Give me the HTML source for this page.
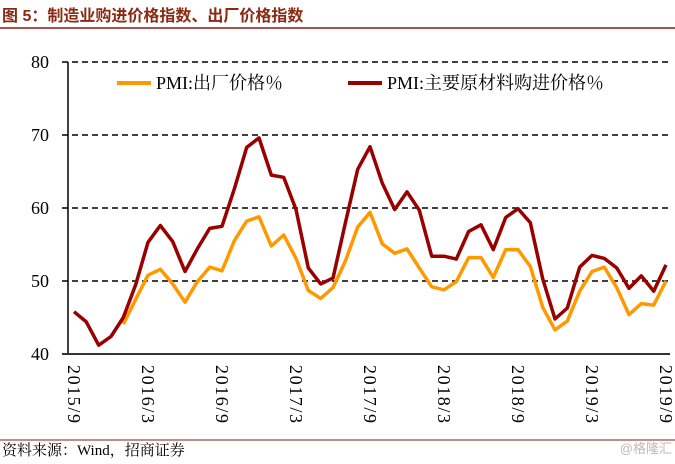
<!DOCTYPE html>
<html><head><meta charset="utf-8"><style>
body{margin:0;width:675px;height:459px;background:#fff;overflow:hidden}
svg text{font-family:"Liberation Serif","Noto Serif CJK SC",serif}
</style></head><body>
<svg width="675" height="459" xmlns="http://www.w3.org/2000/svg">
<text x="2" y="21" font-size="16" font-weight="bold" fill="#8b2a12" style="font-family:'Liberation Sans','Noto Sans CJK SC',sans-serif">图 5：制造业购进价格指数、出厂价格指数</text>
<line x1="0" y1="28" x2="675" y2="28" stroke="#8b1a1a" stroke-width="1.5"/>
<g id="grid"></g><g id="axes"></g><g id="series"></g>
<g>
<line x1="117" y1="83" x2="151" y2="83" stroke="#ff9900" stroke-width="4"/>
<text x="156" y="89" font-size="18">PMI:出厂价格％</text>
<line x1="348" y1="83" x2="382" y2="83" stroke="#990000" stroke-width="4"/>
<text x="387" y="89" font-size="18">PMI:主要原材料购进价格％</text>
</g>
<line x1="0" y1="440" x2="675" y2="440" stroke="#8b1a1a" stroke-width="1"/>
<text x="2" y="455" font-size="15">资料来源：Wind，招商证券</text>
<text x="672" y="453" font-size="13" fill="#bbb" text-anchor="end" style="font-family:'Liberation Sans','Noto Sans CJK SC',sans-serif">@格隆汇</text>
</svg>
<script>
const yTicks=[40,50,60,70,80];
const xLabels=["2015/9","2016/3","2016/9","2017/3","2017/9","2018/3","2018/9","2019/3","2019/9"];
const inputPrice=[45.8,44.4,41.2,42.4,45.0,49.5,55.3,57.6,55.4,51.3,54.4,57.2,57.5,62.6,68.3,69.6,64.5,64.2,59.8,51.8,49.6,50.4,57.9,65.3,68.4,63.4,59.8,62.2,59.7,53.4,53.4,53.0,56.8,57.7,54.3,58.7,59.9,58.0,50.3,44.8,46.3,51.9,53.5,53.1,51.8,49.0,50.7,48.6,52.2];
const outputPrice=[null,null,null,null,44.1,47.5,50.8,51.6,49.6,47.1,49.9,51.9,51.4,55.5,58.2,58.8,54.8,56.3,53.1,48.7,47.6,49.1,52.7,57.4,59.4,55.1,53.8,54.4,51.8,49.2,48.8,49.9,53.2,53.2,50.5,54.3,54.3,52.0,46.4,43.3,44.5,48.6,51.3,51.9,49.1,45.4,46.9,46.7,50.0];
const NS="http://www.w3.org/2000/svg";
const x0=74,x1=666,yTop=62,yBot=354,vMin=40,vMax=80,n=inputPrice.length;
const X=i=>x0+(x1-x0)*i/(n-1);
const Y=v=>yBot-(v-vMin)/(vMax-vMin)*(yBot-yTop);
function mk(t,a,p){const e=document.createElementNS(NS,t);for(const k in a)e.setAttribute(k,a[k]);p.appendChild(e);return e;}
const grid=document.getElementById('grid'),axes=document.getElementById('axes'),ser=document.getElementById('series');
yTicks.forEach(v=>{
  if(v>vMin){const g=mk('line',{x1:62,x2:668,y1:Y(v),y2:Y(v),stroke:'#000','stroke-width':1.5,'stroke-dasharray':'6,4'},grid);
  
  }
  const t=mk('text',{x:49,y:Y(v)+6,'font-size':18,'text-anchor':'end'},axes);t.textContent=v;
  
  
});
const ya=mk('line',{x1:68,x2:68,y1:yTop,y2:yBot,stroke:'#000','stroke-width':1.5},axes);


const xa=mk('line',{x1:62,x2:670,y1:yBot,y2:yBot,stroke:'#333','stroke-width':2},axes);


xLabels.forEach((l,k)=>{const xx=X(k*6);
  const t=mk('text',{x:0,y:0,'font-size':18,'letter-spacing':'1.6',transform:`translate(${xx-6},365) rotate(90)`},axes);t.textContent=l;
  
  
});
function line(arr,color,name){let d='';arr.forEach((v,i)=>{if(v==null)return;d+=(d?'L':'M')+X(i).toFixed(1)+','+Y(v).toFixed(1);});
  const p=mk('path',{d,fill:'none',stroke:color,'stroke-width':3.5,'stroke-linejoin':'round'},ser);
  
  }
line(outputPrice,'#ff9900','series-output-price');
line(inputPrice,'#990000','series-input-price');
</script>
</body></html>
